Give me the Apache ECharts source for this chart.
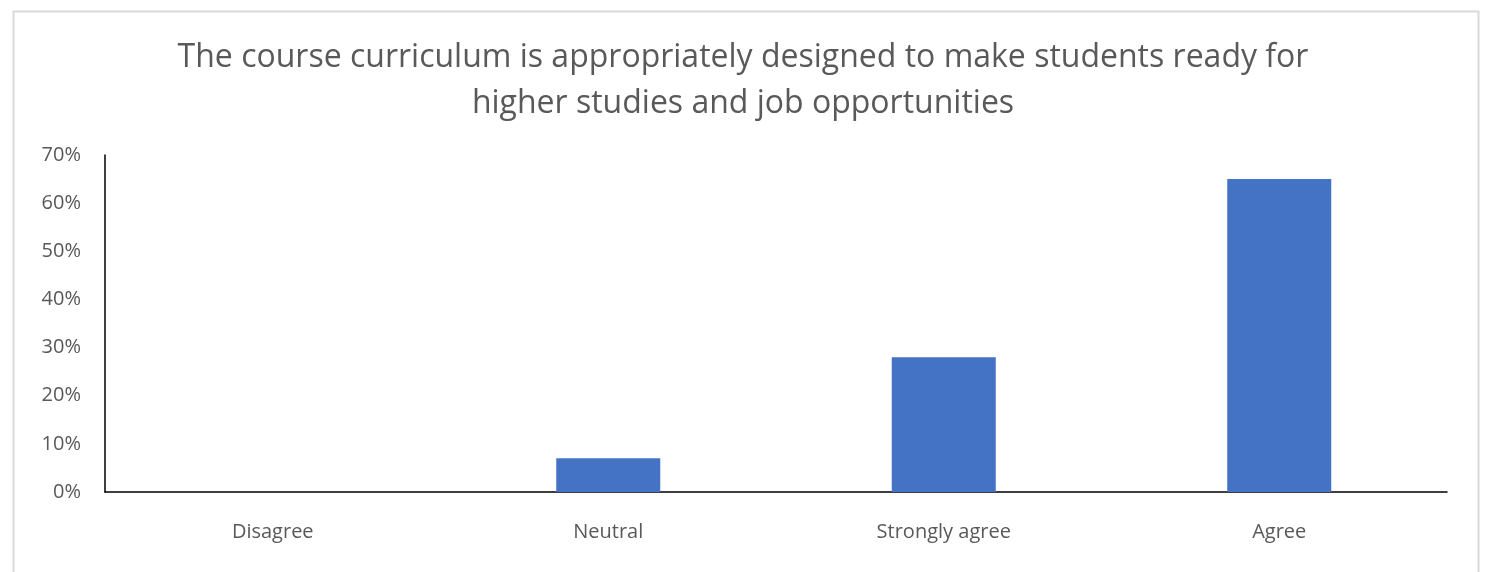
<!DOCTYPE html>
<html><head><meta charset="utf-8">
<script src="https://cdn.jsdelivr.net/npm/echarts@6/dist/echarts.min.js"></script>
<style>html,body{margin:0;padding:0;background:#fff}#c{width:1486px;height:572px}</style>
</head><body><div id="c"></div>
<script>
const categories = ['Disagree', 'Neutral', 'Strongly agree', 'Agree'];
const values = [0, 7, 28, 65];
const yTicks = [0, 10, 20, 30, 40, 50, 60, 70];
const titleText = 'The course curriculum is appropriately designed to make students ready for\nhigher studies and job opportunities';

const chart = echarts.init(document.getElementById('c'));
chart.setOption({
  animation: false,
  textStyle: { fontFamily: 'Open Sans' },
  graphic: [{
    type: 'rect', left: 11, top: 9,
    shape: { width: 1465, height: 620 },
    style: { fill: 'none', stroke: '#d9d9d9', lineWidth: 2 }
  }],
  title: {
    text: titleText, left: 'center', top: 30,
    textStyle: { fontFamily: 'Open Sans', fontSize: 32, fontWeight: 'normal', color: '#595959', lineHeight: 46 }
  },
  grid: { left: 105, right: 39, top: 155, bottom: 80 },
  xAxis: {
    type: 'category', data: categories,
    axisLine: { lineStyle: { color: '#000', width: 1.5 } },
    axisTick: { show: false },
    axisLabel: { color: '#595959', fontSize: 20, margin: 30, fontFamily: 'Open Sans' }
  },
  yAxis: {
    type: 'value', min: yTicks[0], max: yTicks[yTicks.length - 1], interval: 10,
    axisLine: { show: true, lineStyle: { color: '#000', width: 1.5 } },
    axisTick: { show: false },
    splitLine: { show: false },
    axisLabel: { color: '#595959', fontSize: 20, margin: 24, formatter: '{value}%', fontFamily: 'Open Sans' }
  },
  series: [{
    type: 'bar', data: values, barWidth: '31%',
    itemStyle: { color: '#4472C4' }
  }]
});
</script></body></html>
